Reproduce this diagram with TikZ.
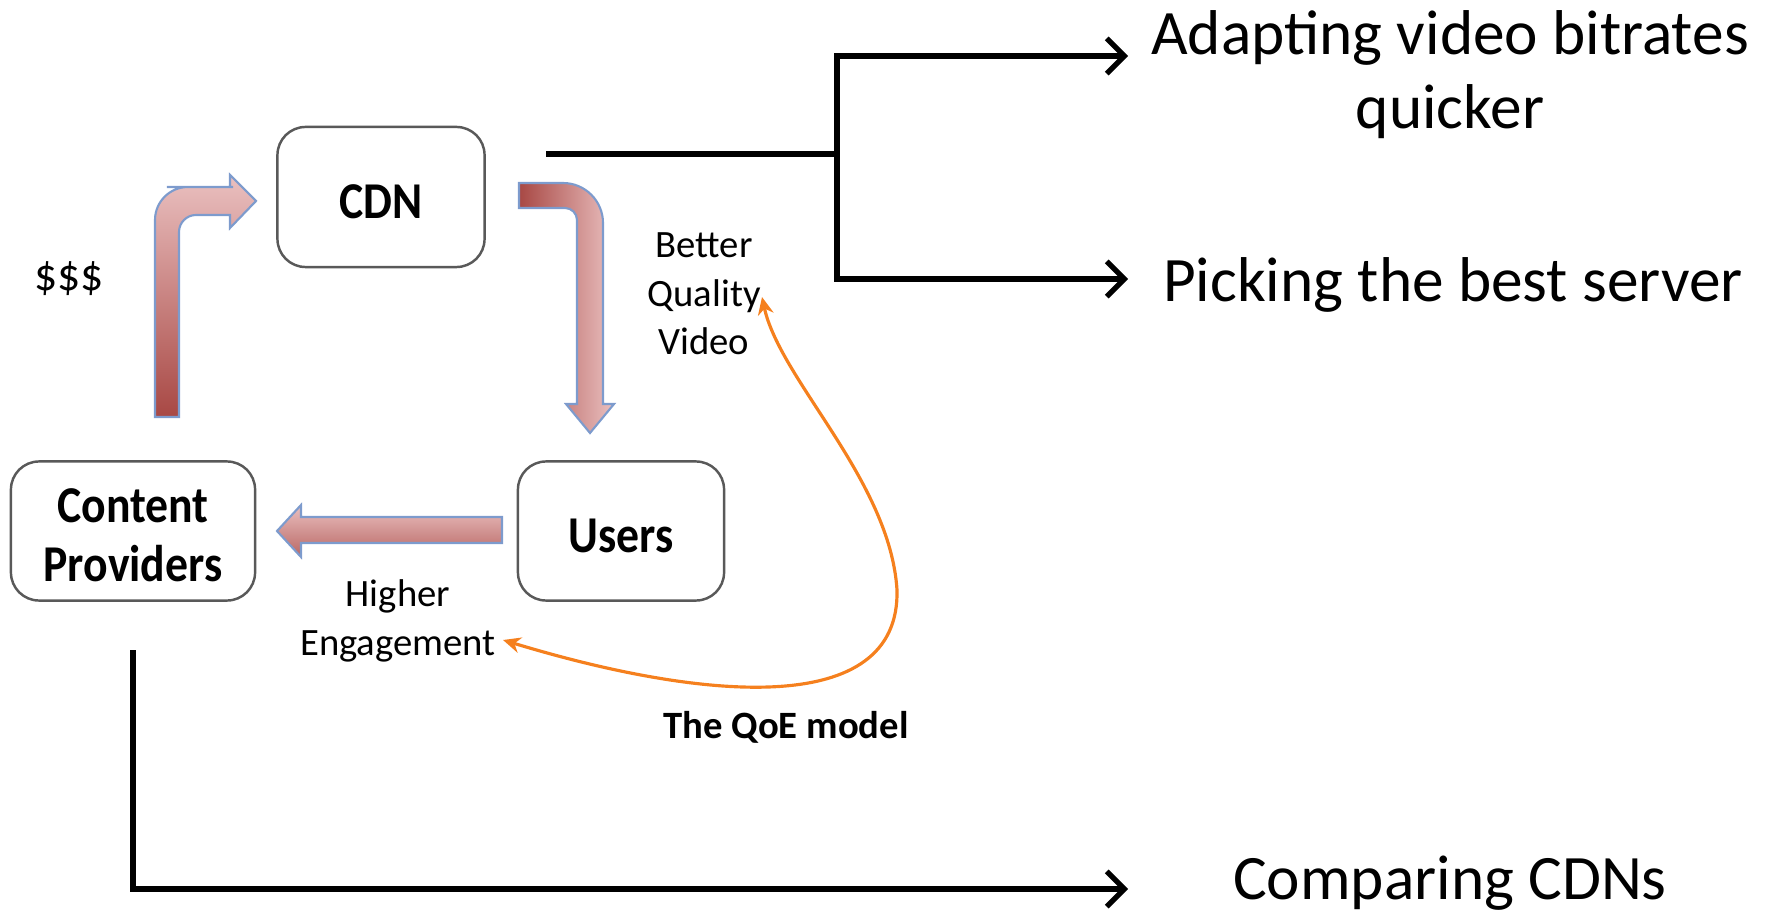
\documentclass[tikz,border=0pt]{standalone}
\usepackage{fontspec}
\usepackage{graphicx}
\setmainfont{Carlito}
\usetikzlibrary{arrows.meta}
\definecolor{fatred}{RGB}{168,72,68}
\definecolor{fatpink}{RGB}{234,192,192}
\definecolor{fatedge}{RGB}{125,155,205}
\definecolor{qoeorange}{RGB}{245,128,30}
% box labels are set a little taller and lower, as in the slide
\newcommand{\boxlabel}[1]{\raisebox{-1.3pt}[\height][\depth]{\scalebox{1}[1.13]{#1}}}
\begin{document}
\begin{tikzpicture}[x=0.01cm,y=-0.01cm,
    fatarrow/.style={draw=fatedge,line width=0.6pt},
    bigtext/.style={font=\fontsize{18}{21}\selectfont}]
  \useasboundingbox (0,0) rectangle (1774,913);

  % the three boxes
  \begin{scope}[every node/.style={draw=black!65,line width=0.7pt,rounded corners=8pt,
      align=center,font=\fontsize{13}{16.7}\selectfont\bfseries}]
    \node (cdn) at (381,197) [minimum width=2.07cm,minimum height=1.40cm] {\boxlabel{CDN}};
    \node (cp) at (133,531) [minimum width=2.44cm,minimum height=1.39cm] {\boxlabel{Content}\\\boxlabel{Providers}};
    \node (users) at (621,531) [minimum width=2.06cm,minimum height=1.39cm] {\boxlabel{Users}};
  \end{scope}

  % fat arrows of the cycle
  \draw[fatarrow,bottom color=fatred,top color=fatpink]
    (155,300) [rounded corners=0.33cm] -- (155,187) -- (200,187) [sharp corners]
    -- (230,187) -- (230,175) -- (256,201) -- (230,228) -- (230,215)
    -- (205,215) [rounded corners=0.17cm] -- (179,215) -- (179,300) [sharp corners]
    -- (179,417) -- (155,417) -- cycle;
  \draw[fatarrow,left color=fatred,right color=fatpink]
    (519,183) -- (560,183) [rounded corners=0.4cm] -- (603,183) -- (603,300) [sharp corners]
    -- (603,404) -- (614,404) -- (590,433) -- (566,404) -- (577,404)
    -- (577,300) [rounded corners=0.12cm] -- (577,208) -- (550,208) [sharp corners]
    -- (519,208) -- cycle;
  \draw[fatarrow,top color=fatpink,bottom color=fatred!75!fatpink]
    (502,517) -- (301,517) -- (301,505) -- (277,531) -- (301,557) -- (301,543) -- (502,543) -- cycle;

  % labels
  \node (money) at (69,279) [font=\fontsize{13}{16}\selectfont] {\$\$\$};
  \begin{scope}[every node/.style={align=center,font=\fontsize{11}{13.8}\selectfont}]
    \node (better) at (704,294) {Better\\Quality\\Video};
    \node (higher) at (398,621) {Higher\\Engagement};
  \end{scope}
  \node (qoe) at (786,738) [anchor=base,font=\fontsize{11}{13.8}\selectfont\bfseries] {The QoE model};

  % the QoE model loop
  \coordinate (qoeeng) at (503,640);
  \coordinate (qoequal) at (762,297);
  \draw[qoeorange,line width=0.9pt,{Stealth[length=5pt,width=4.5pt]}-{Stealth[length=5pt,width=4.5pt]}]
    (qoeeng) .. controls (700,700) and (900,720) .. (897,590)
    .. controls (890,480) and (780,380) .. (qoequal);

  % what it is used for
  \node (adapt) at (1450,75) [bigtext,align=center] {Adapting video bitrates\\quicker};
  \node (pick) at (1453,302) [bigtext,anchor=base] {Picking the best server};
  \node (comp) at (1450,899) [bigtext,anchor=base] {Comparing CDNs};

  \coordinate (cdnout) at (546,154);
  \coordinate (fork) at (837,154);
  \coordinate (forktop) at (837,56);
  \coordinate (forkbot) at (837,279);
  \coordinate (adaptin) at (1128,56);
  \coordinate (pickin) at (1128,279);
  \coordinate (cpout) at (133,650);
  \coordinate (compin) at (1128,889);
  \begin{scope}[every edge/.style={draw=black,line width=1.5pt}]
    \path (cdnout) edge (fork);
    \path (forktop) edge[line cap=rect] (forkbot);
    \path (forktop) edge[-{Straight Barb[length=5pt,width=10pt]}] (adaptin);
    \path (forkbot) edge[-{Straight Barb[length=5pt,width=10pt]}] (pickin);
  \end{scope}
  \draw[line width=1.5pt,-{Straight Barb[length=5pt,width=10pt]}] (cpout) |- (compin);
\end{tikzpicture}
\end{document}
